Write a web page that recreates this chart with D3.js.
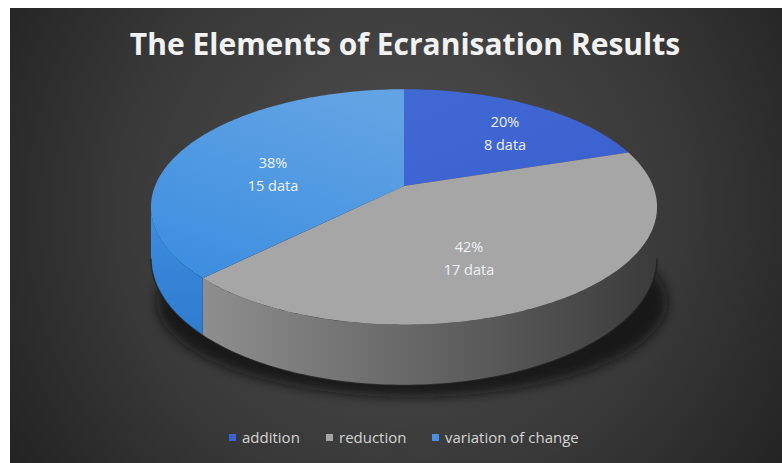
<!DOCTYPE html>
<html>
<head>
<meta charset="utf-8">
<script src="https://cdn.jsdelivr.net/npm/d3@7"></script>
<style>
  html, body { margin: 0; padding: 0; background: #fff; }
  svg { display: block; }
</style>
</head>
<body>
<div id="chart"></div>
<script>
const categories = ["addition", "reduction", "variation of change"];
const counts = [8, 17, 15];
const percents = ["20%", "42%", "38%"];
const topColors = ["#3c63d1", "#a6a6a6", "#4c93e0"];
const legendColors = ["#3b62d4", "#a5a5a5", "#4a90e2"];

const width = 782;
const height = 463;

const svg = d3.select("#chart")
  .append("svg")
  .attr("width", width)
  .attr("height", height);

const defs = svg.append("defs");

const bg = defs.append("radialGradient")
  .attr("id", "bg")
  .attr("gradientUnits", "userSpaceOnUse")
  .attr("cx", 400).attr("cy", 210).attr("r", 520);
bg.append("stop").attr("offset", "0%").attr("stop-color", "#505050");
bg.append("stop").attr("offset", "55%").attr("stop-color", "#383838");
bg.append("stop").attr("offset", "100%").attr("stop-color", "#1c1c1c");

const graySide = defs.append("linearGradient")
  .attr("id", "graySide")
  .attr("gradientUnits", "userSpaceOnUse")
  .attr("x1", 200).attr("x2", 660).attr("y1", 0).attr("y2", 0);
graySide.append("stop").attr("offset", "0%").attr("stop-color", "#8f8f8f");
graySide.append("stop").attr("offset", "50%").attr("stop-color", "#646464");
graySide.append("stop").attr("offset", "100%").attr("stop-color", "#3a3a3a");

const blueSide = defs.append("linearGradient")
  .attr("id", "blueSide")
  .attr("x1", 0).attr("x2", 0).attr("y1", 0).attr("y2", 1);
blueSide.append("stop").attr("offset", "0%").attr("stop-color", "#3d8de0");
blueSide.append("stop").attr("offset", "100%").attr("stop-color", "#2f7cd0");

const blueTop = defs.append("linearGradient")
  .attr("id", "blueTop")
  .attr("x1", 0.7).attr("x2", 0.2).attr("y1", 0).attr("y2", 1);
blueTop.append("stop").attr("offset", "0%").attr("stop-color", "#62a3e4");
blueTop.append("stop").attr("offset", "100%").attr("stop-color", "#3d8ee0");

const navyTop = defs.append("linearGradient")
  .attr("id", "navyTop")
  .attr("x1", 0).attr("x2", 1).attr("y1", 0).attr("y2", 1);
navyTop.append("stop").attr("offset", "0%").attr("stop-color", "#4169d3");
navyTop.append("stop").attr("offset", "100%").attr("stop-color", "#3a60cf");

const blur = defs.append("filter").attr("id", "blur")
  .attr("x", "-20%").attr("y", "-20%").attr("width", "140%").attr("height", "140%");
blur.append("feGaussianBlur").attr("stdDeviation", 6);

svg.append("rect")
  .attr("x", 10).attr("y", 8)
  .attr("width", width - 10).attr("height", height - 8)
  .attr("fill", "url(#bg)");

svg.append("text")
  .attr("x", 405).attr("y", 55)
  .attr("text-anchor", "middle")
  .attr("font-family", "Open Sans")
  .attr("font-weight", "bold")
  .attr("font-size", 30)
  .attr("fill", "#f2f2f2")
  .text("The Elements of Ecranisation Results");

// perspective projection of the pie disc
const cx = 404, cy = 186, R = 249, Ry = 114, k = 0.178, H = 50;
function proj(a, t) {
  const u = Math.sin(a), v = Math.cos(a), w = 1 + k * v;
  return [cx + R * u / w, cy + (-Ry * v + H * t) / w];
}
function arcPts(a0, a1, t) {
  const n = Math.max(2, Math.ceil(Math.abs(a1 - a0) / 0.02));
  return d3.range(n + 1).map(i => proj(a0 + (a1 - a0) * i / n, t));
}

const pie = d3.pie().sort(null).value(d => d);
const arcs = pie(counts);

const line = d3.line();

// shadow
svg.append("ellipse")
  .attr("cx", cx + 8).attr("cy", 302)
  .attr("rx", 255).attr("ry", 95)
  .attr("fill", "#0d0d0d")
  .attr("opacity", 0.75)
  .attr("filter", "url(#blur)");

// visible side range
const sL = Math.acos(-k), sR = 2 * Math.PI - Math.acos(-k);
const sideFills = [null, "url(#graySide)", "url(#blueSide)"];

arcs.forEach((d, i) => {
  const a0 = Math.max(d.startAngle, sL), a1 = Math.min(d.endAngle, sR);
  if (a1 <= a0) return;
  const pts = arcPts(a0, a1, 0).concat(arcPts(a1, a0, 1));
  svg.append("path")
    .attr("d", line(pts) + "Z")
    .attr("fill", sideFills[i] || topColors[i]);
});

// dark bottom rim
svg.append("path")
  .attr("d", line(arcPts(sL, sR, 1)))
  .attr("fill", "none")
  .attr("stroke", "#1e1e1e")
  .attr("stroke-width", 1.5)
  .attr("opacity", 0.8);

const topFills = ["url(#navyTop)", topColors[1], "url(#blueTop)"];
arcs.forEach((d, i) => {
  const pts = [[cx, cy]].concat(arcPts(d.startAngle, d.endAngle, 0));
  svg.append("path")
    .attr("d", line(pts) + "Z")
    .attr("fill", topFills[i]);
});

// labels
const labelX = [505, 469, 273];
const labelY = [127, 252, 168];
arcs.forEach((d, i) => {
  const g = svg.append("text")
    .attr("text-anchor", "middle")
    .attr("font-family", "Open Sans")
    .attr("font-size", 14.5)
    .attr("fill", "#eef2f8");
  g.append("tspan").attr("x", labelX[i]).attr("y", labelY[i]).text(percents[i]);
  g.append("tspan").attr("x", labelX[i]).attr("y", labelY[i] + 23).text(counts[i] + " data");
});

// legend
const legendX = [229, 326, 432];
const legend = svg.selectAll(".legend")
  .data(categories)
  .enter()
  .append("g")
  .attr("transform", (d, i) => `translate(${legendX[i]},438)`);
legend.append("rect")
  .attr("x", 0).attr("y", -4)
  .attr("width", 7).attr("height", 7)
  .attr("fill", (d, i) => legendColors[i]);
legend.append("text")
  .attr("x", 13).attr("y", 5)
  .attr("font-family", "Open Sans")
  .attr("font-size", 15)
  .attr("fill", "#d4d4d4")
  .text(d => d);
</script>
</body>
</html>
